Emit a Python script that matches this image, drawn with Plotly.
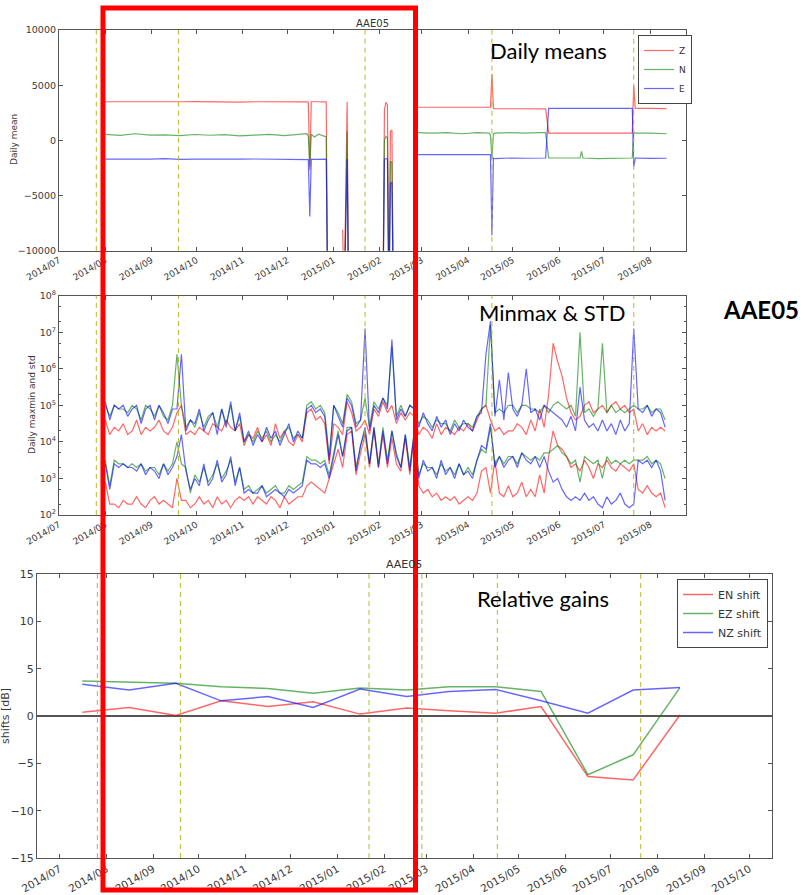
import numpy as np
import pandas as pd
import plotly.graph_objects as go

# ---------------- DATA ----------------
station = "AAE05"
event_dates = ["2014-07-26", "2014-09-19", "2015-01-22", "2015-02-26", "2015-04-17", "2015-07-21"]

# Panel 1: daily means (None = no data)
mean_dates = [
    "2014-08-01", "2014-08-11", "2014-08-21", "2014-08-31", "2014-09-10", "2014-09-20", "2014-09-30",
    "2014-10-10", "2014-10-20", "2014-10-30", "2014-11-09", "2014-11-19", "2014-11-29", "2014-12-09", "2014-12-14",
    "2014-12-15", "2014-12-16", "2014-12-17", "2014-12-19", "2014-12-22", "2014-12-25", "2014-12-27", "2014-12-28",
    "2014-12-29",
    "2015-01-07", "2015-01-08", "2015-01-10", "2015-01-11",
    "2015-01-12",
    "2015-02-03", "2015-02-04", "2015-02-05", "2015-02-06", "2015-02-07", "2015-02-08", "2015-02-09", "2015-02-10",
    "2015-02-11",
    "2015-02-26", "2015-03-08", "2015-03-18", "2015-03-28", "2015-04-07", "2015-04-15", "2015-04-16", "2015-04-17",
    "2015-04-18", "2015-04-19",
    "2015-04-29", "2015-05-09", "2015-05-19", "2015-05-23", "2015-05-25",
    "2015-06-04", "2015-06-14", "2015-06-15", "2015-06-16", "2015-06-17", "2015-06-27", "2015-07-07", "2015-07-19",
    "2015-07-20", "2015-07-21", "2015-07-22",
    "2015-08-01", "2015-08-12",
]
mean_Z = [
    3500, 3490, 3510, 3500, 3480, 3500, 3510, 3490, 3500, 3470, 3500, 3510, 3500, 3520, 3490,
    3450, -2700, 3500, 3480, 3500, 3490, 3480, -15000,
    None,
    -8100, -15000, 3500, -15000,
    None,
    -15000, 2800, 3450, 3200, -15000, 800, 950, -15000,
    None,
    3000, 3010, 2990, 3000, 3010, 2990, 3000, 6000, 2900, 2870,
    2880, 2860, 2870, 2850, 650,
    650, 660, 640, 650, 640, 650, 660, 650, 650, 5000, 2900,
    2900, 2880,
]
mean_N = [
    550, 450, 600, 480, 500, 420, 530, 460, 520, 400, 480, 550, 430, 520, 600,
    400, -2400, 550, 300, 550, 400, 300, -15000,
    None,
    None, -15000, 800, -15000,
    None,
    -15000, 0, 350, 250, -15000, -1900, -2000, -15000,
    None,
    700, 650, 700, 600, 700, 650, 500, -1700, 600, 650,
    700, 650, 700, 700, -1600,
    -1600, -1650, -1600, -1000, -1600, -1650, -1600, -1600, -1600, 700, 650,
    650, 600,
]
mean_E = [
    -1700, -1720, -1680, -1700, -1650, -1720, -1700, -1680, -1720, -1700, -1690, -1700, -1710, -1680, -1700,
    -1750, -6900, -1700, -1720, -1700, -1690, -1700, -15000,
    None,
    None, -15000, -1700, -15000,
    None,
    -15000, -1700, -1650, -1700, -15000, -3900, -3800, -15000,
    None,
    -1300, -1280, -1320, -1300, -1290, -1310, -1300, -8600, -1600, -1650,
    -1600, -1620, -1600, -1600, 2900,
    2900, 2910, 2900, 2890, 2900, 2910, 2920, 2900, 2900, -2400, -1600,
    -1630, -1620,
]
mean_ticks = [-10000, -5000, 0, 5000, 10000]
mean_ticktext = ["\u221210000", "\u22125000", "0", "5000", "10000"]

# Panel 2: log10 of daily maxmin (upper band) and std (lower band), one value every 3 days
mm_start = "2014-08-01"
mm_step_days = 3
Z_maxmin_log10 = [
    4.6, 4.2, 4.4, 4.3, 4.5, 4.2, 4.3, 4.6, 4.2, 4.4, 4.3, 4.4, 4.6, 4.3, 4.2, 4.4,
    4.8, 5.0,
    4.2, 4.3, 4.2, 4.4, 4.3, 4.2, 4.5, 4.4, 4.3, 4.6, 4.4, 4.3, 4.5,
    3.9, 4.2, 4.1, 4.4, 4.0, 4.2, 3.9, 4.5, 4.1, 4.3, 4.0, 3.9, 4.2, 4.0,
    4.8, 4.9, 4.6, 4.7, 4.5,
    3.4, 4.5, 4.4, 4.2, 5.1, 4.8, 4.3, 4.4, 4.6, 4.2, 4.9, 4.7, 5.1, 4.8, 5.0, 4.5, 4.8, 4.6, 4.8, 4.7,
    4.2, 4.4, 4.3, 4.1, 4.5, 4.2, 4.4, 4.3, 4.2, 4.4, 4.3, 4.5, 4.3, 4.6, 4.9,
    5.0, 4.6, 4.3, 4.4, 4.2, 4.3, 4.3, 4.5, 4.4, 4.2, 4.6, 4.3, 4.9, 4.4,
    5.3, 6.7, 6.2, 5.8, 5.2, 4.8, 4.6, 4.7, 5.0, 5.1, 4.8, 4.9, 5.0, 4.8, 5.0, 5.1, 4.9, 5.0, 4.8,
    4.9, 4.3, 4.5, 4.2, 4.4, 4.3, 4.4, 4.3,
]
N_maxmin_log10 = [
    5.0, 4.7, 5.0, 4.9, 4.9, 4.8, 5.0, 4.9, 4.6, 5.0, 4.9, 4.7, 5.0, 4.7, 4.6, 5.0,
    6.4, 5.0,
    4.4, 4.6, 4.4, 4.8, 4.4, 4.7, 4.8, 4.4, 4.9, 4.5, 5.0, 4.3, 4.7,
    4.0, 4.2, 4.0, 4.3, 4.1, 4.3, 4.0, 4.2, 4.0, 4.3, 4.4, 4.1, 4.2, 4.1,
    5.0, 5.1, 4.9, 5.0, 4.8,
    3.6, 5.0, 4.8, 4.5, 5.3, 5.1, 4.5, 4.6, 5.2, 4.4, 5.1, 4.9, 5.2, 5.0, 6.6, 4.7, 5.0, 4.7, 5.0, 4.9,
    4.5, 4.7, 4.6, 4.4, 4.6, 4.5, 4.5, 4.3, 4.6, 4.4, 4.5, 4.5, 4.4, 4.7, 4.9,
    5.0, 7.2, 4.8, 4.9, 4.8, 5.0, 5.0, 4.8, 5.0, 5.0, 4.9, 4.9, 4.8, 5.0,
    4.8, 5.0, 5.1, 5.0, 4.9, 5.0, 4.7, 7.0, 4.8, 4.9, 4.7, 4.9, 6.7, 4.8, 5.0, 4.8, 4.9, 4.8, 4.9,
    5.0, 4.9, 4.9, 5.0, 4.8, 4.9, 4.9, 4.6,
]
E_maxmin_log10 = [
    5.1, 4.6, 5.0, 4.9, 5.0, 4.7, 4.9, 5.0, 4.5, 4.9, 5.0, 4.6, 5.0, 4.8, 4.5, 4.9,
    4.9, 6.4,
    4.3, 4.6, 4.5, 4.9, 4.3, 4.6, 4.8, 4.2, 4.9, 4.4, 5.1, 4.3, 4.8,
    4.0, 4.3, 3.9, 4.2, 4.0, 4.4, 4.1, 4.3, 3.9, 4.2, 4.5, 4.0, 4.3, 4.1,
    4.9, 5.0, 4.8, 4.9, 4.7,
    3.5, 5.0, 4.7, 4.4, 5.2, 5.0, 4.4, 4.6, 7.1, 4.3, 5.0, 4.8, 5.2, 4.9, 6.8, 4.6, 4.9, 4.7, 5.0, 4.9,
    4.4, 4.8, 4.5, 4.3, 4.7, 4.4, 4.6, 4.2, 4.5, 4.3, 4.6, 4.4, 4.3, 4.7, 4.8,
    6.4, 7.3, 4.7, 5.7, 4.6, 5.9, 4.9, 4.7, 5.0, 6.0, 4.8, 4.9, 4.6, 5.0,
    4.9, 4.8, 4.7, 4.6, 4.4, 4.7, 4.3, 5.5, 4.6, 4.4, 4.5, 4.3, 4.6, 4.3, 4.5, 4.2, 4.6, 4.3, 4.5,
    7.1, 4.9, 4.8, 5.0, 4.7, 4.9, 4.8, 4.4,
]
Z_std_log10 = [
    2.9, 2.3, 2.3, 2.2, 2.4, 2.3, 2.3, 2.5, 2.3, 2.2, 2.4, 2.5, 2.3, 2.4, 2.3, 2.2,
    3.0, 2.4,
    2.4, 2.2, 2.3, 2.5, 2.3, 2.4, 2.2, 2.5, 2.3, 2.4, 2.2, 2.4, 2.5,
    2.4, 2.5, 2.3, 2.5, 2.4, 2.3, 2.5, 2.4, 2.2, 2.5, 2.3, 2.4, 2.5, 2.5,
    2.8, 2.9, 2.8, 2.7, 2.6,
    3.0, 3.4, 3.8, 3.3, 4.2, 4.3, 3.1, 3.7, 4.2, 3.3, 4.3, 3.3, 4.2, 3.3, 4.1, 3.4, 3.2, 4.1, 3.1, 4.2,
    2.8, 2.6, 2.7, 2.5, 2.6, 2.4, 2.5, 2.4, 2.5, 2.3, 2.4, 2.5, 2.4, 2.6, 3.2,
    3.3, 2.6, 3.5, 2.6, 2.5, 2.8, 2.5, 2.6, 2.9, 2.5, 2.7, 2.5, 3.1, 2.6,
    3.6, 4.3, 3.9, 3.8, 3.6, 3.3, 3.4, 3.2, 3.5, 3.3, 3.0, 3.4, 3.3, 3.5, 3.3, 3.2, 3.4, 3.3, 3.2,
    3.4, 2.7, 2.6, 2.8, 2.6, 2.5, 2.6, 2.2,
]
N_std_log10 = [
    3.5, 2.8, 3.5, 3.4, 3.4, 3.3, 3.4, 3.3, 3.4, 3.2, 3.3, 3.3, 3.1, 3.4, 3.2, 3.4,
    4.0, 3.4,
    3.3, 2.6, 3.1, 2.9, 3.3, 2.9, 3.1, 3.4, 3.0, 3.2, 3.5, 2.9, 3.3,
    2.7, 2.8, 2.6, 2.7, 2.8, 2.6, 2.7, 2.8, 2.6, 2.6, 2.8, 2.7, 2.8, 2.9,
    3.6, 3.5, 3.5, 3.4, 3.5,
    3.1, 3.7, 4.3, 3.6, 4.4, 4.4, 3.3, 3.9, 4.3, 3.4, 4.4, 3.4, 4.4, 3.5, 4.3, 3.7, 3.3, 4.2, 3.3, 4.3,
    3.1, 3.4, 3.3, 3.3, 3.1, 3.4, 3.2, 3.3, 3.1, 3.4, 3.1, 3.3, 3.1, 3.5, 3.8,
    3.7, 4.4, 3.4, 3.6, 3.4, 3.6, 3.6, 3.4, 3.7, 3.6, 3.5, 3.6, 3.5, 3.7,
    3.7, 3.8, 3.9, 3.7, 3.6, 3.4, 3.5, 2.9, 3.6, 3.5, 3.4, 3.5, 3.0, 3.6, 3.4, 3.5, 3.4, 3.5, 3.4,
    3.5, 3.5, 3.5, 3.6, 3.4, 3.5, 3.4, 3.0,
]
E_std_log10 = [
    3.4, 2.7, 3.4, 3.3, 3.4, 3.3, 3.3, 3.2, 3.4, 3.1, 3.3, 3.2, 3.0, 3.4, 3.1, 3.3,
    3.6, 4.2,
    3.2, 2.7, 3.0, 2.8, 3.4, 2.8, 3.0, 3.5, 2.9, 3.1, 3.6, 2.8, 3.3,
    2.6, 2.7, 2.6, 2.6, 2.8, 2.5, 2.6, 2.7, 2.6, 2.5, 2.7, 2.6, 2.7, 2.8,
    3.5, 3.4, 3.4, 3.3, 3.4,
    3.0, 3.6, 4.2, 3.6, 4.3, 4.4, 3.2, 3.9, 4.4, 3.4, 4.4, 3.3, 4.3, 3.4, 4.3, 3.6, 3.3, 4.2, 3.2, 4.3,
    3.0, 3.5, 3.2, 3.3, 3.0, 3.5, 3.1, 3.3, 3.0, 3.4, 3.1, 3.2, 3.0, 3.5, 3.9,
    3.8, 4.5, 3.3, 3.6, 3.3, 3.5, 3.6, 3.3, 3.7, 3.5, 3.4, 3.6, 3.3, 3.6,
    3.2, 2.9, 3.0, 2.7, 2.5, 2.4, 2.5, 2.4, 2.6, 2.4, 2.5, 2.3, 2.2, 2.5, 2.3, 2.4, 2.6, 2.3, 2.2,
    2.3, 3.5, 3.4, 3.5, 3.3, 3.5, 3.2, 2.4,
]

# Panel 3: relative gains (dB), monthly
gain_dates = ["2014-07-16", "2014-08-16", "2014-09-16", "2014-10-16", "2014-11-16", "2014-12-16", "2015-01-16",
              "2015-02-16", "2015-03-16", "2015-04-16", "2015-05-16", "2015-06-16", "2015-07-16", "2015-08-16"]
EN_shift = [0.4, 0.9, 0.05, 1.6, 1.0, 1.5, 0.2, 0.85, 0.55, 0.3, 1.0, -6.4, -6.75, 0.1]
EZ_shift = [3.7, 3.6, 3.45, 3.1, 2.9, 2.4, 2.95, 2.75, 3.1, 3.1, 2.6, -6.2, -4.1, 3.0]
NZ_shift = [3.35, 2.75, 3.45, 1.6, 2.05, 0.9, 2.85, 2.05, 2.6, 2.8, 1.6, 0.3, 2.75, 3.0]
gain_ticks = [-15, -10, -5, 0, 5, 10, 15]
gain_ticktext = ["\u221215", "\u221210", "\u22125", "0", "5", "10", "15"]

# ---------------- STYLE ----------------
W, H = 805, 895
RED = "rgba(255,0,0,0.6)"
GREEN = "rgba(0,128,0,0.6)"
BLUE = "rgba(0,0,255,0.6)"
EVENT = "rgb(185,185,40)"
AX = "#555555"
TXT = "#3a3a3a"

def px_x(p):
    return p / W

def px_y(p):
    return 1 - p / H

n_mm = len(E_maxmin_log10)
for l in [Z_maxmin_log10, N_maxmin_log10, Z_std_log10, N_std_log10, E_std_log10]:
    assert len(l) == n_mm, (len(l), n_mm)
mm_dates = pd.date_range(mm_start, periods=n_mm, freq=f"{mm_step_days}D")

fig = go.Figure()

# Panel 1
for name, vals, col in [("Z", mean_Z, RED), ("N", mean_N, GREEN), ("E", mean_E, BLUE)]:
    fig.add_trace(go.Scatter(x=mean_dates, y=vals, name=name, mode="lines",
                             line=dict(color=col, width=1.2), connectgaps=False,
                             xaxis="x", yaxis="y", legend="legend"))

# Panel 2
for vals, col in [(Z_maxmin_log10, RED), (Z_std_log10, RED),
                  (N_maxmin_log10, GREEN), (N_std_log10, GREEN),
                  (E_maxmin_log10, BLUE), (E_std_log10, BLUE)]:
    fig.add_trace(go.Scatter(x=mm_dates, y=np.power(10.0, np.array(vals)), mode="lines",
                             line=dict(color=col, width=1.2), showlegend=False,
                             xaxis="x2", yaxis="y2"))

# Panel 3
for name, vals, col in [("EN shift", EN_shift, RED), ("EZ shift", EZ_shift, GREEN), ("NZ shift", NZ_shift, BLUE)]:
    fig.add_trace(go.Scatter(x=gain_dates, y=vals, name=name, mode="lines",
                             line=dict(color=col, width=1.5),
                             xaxis="x3", yaxis="y3", legend="legend2"))

common_axis = dict(showline=True, linecolor=AX, linewidth=1.2, mirror="ticks", ticks="inside",
                   ticklen=4, tickcolor=AX, showgrid=False, automargin=False)

xdom12 = [px_x(59), px_x(686)]
xdom3 = [px_x(37), px_x(772)]
date_axis = dict(type="date", dtick="M1", tick0="2014-07-01", tickformat="%Y/%m", tickangle=-30)

fig.update_layout(
    template="none",
    width=W, height=H, autosize=False,
    margin=dict(l=0, r=0, t=0, b=0, pad=0),
    paper_bgcolor="white", plot_bgcolor="white",
    font=dict(family="DejaVu Sans", color=TXT),
    xaxis=dict(domain=xdom12, anchor="y", range=["2014-07-01", "2015-08-25"],
               tickfont=dict(size=9, color=TXT), zeroline=False, **date_axis, **common_axis),
    yaxis=dict(domain=[px_y(250.7), px_y(30)], anchor="x", range=[-10000, 10000],
               tickvals=mean_ticks, ticktext=mean_ticktext, zeroline=False,
               tickfont=dict(size=9.5, color=TXT), **common_axis),
    xaxis2=dict(domain=xdom12, anchor="y2", range=["2014-07-01", "2015-08-25"],
                tickfont=dict(size=9, color=TXT), zeroline=False, **date_axis, **common_axis),
    yaxis2=dict(domain=[px_y(515), px_y(295.7)], anchor="x2", type="log", range=[2, 8],
                tickvals=[1e2, 1e3, 1e4, 1e5, 1e6, 1e7, 1e8],
                ticktext=["10<sup>%d</sup>" % k for k in range(2, 9)],
                tickfont=dict(size=9.5, color=TXT), zeroline=False,
                minor=dict(ticks="inside", ticklen=2, tickcolor=AX, showgrid=False),
                **common_axis),
    xaxis3=dict(domain=xdom3, anchor="y3", range=["2014-06-16", "2015-10-16"],
                tickfont=dict(size=10.5, color=TXT), zeroline=False, **date_axis, **common_axis),
    yaxis3=dict(domain=[px_y(858), px_y(574)], anchor="x3", range=[-15, 15],
                tickvals=gain_ticks, ticktext=gain_ticktext, tickfont=dict(size=11, color=TXT),
                zeroline=True, zerolinecolor="#555555", zerolinewidth=1.5, **common_axis),
    legend=dict(x=px_x(638), y=px_y(35), xanchor="left", yanchor="top", bgcolor="white",
                bordercolor="#444", borderwidth=1, font=dict(size=9, color="#333"),
                tracegroupgap=0, itemwidth=30),
    legend2=dict(x=px_x(677), y=px_y(579), xanchor="left", yanchor="top", bgcolor="white",
                 bordercolor="#444", borderwidth=1, font=dict(size=11, color="#333"),
                 tracegroupgap=0, itemwidth=30),
    showlegend=True,
)

shapes = []
for xr, yr in [("x", "y domain"), ("x2", "y2 domain"), ("x3", "y3 domain")]:
    for d in event_dates:
        shapes.append(dict(type="line", xref=xr, yref=yr, x0=d, x1=d, y0=0, y1=1,
                           line=dict(color=EVENT, width=1, dash="5px,4px")))
# red highlight box
shapes.append(dict(type="rect", xref="paper", yref="paper",
                   x0=px_x(103), x1=px_x(415.5), y0=px_y(890), y1=px_y(8),
                   line=dict(color="rgb(255,0,0)", width=5), fillcolor="rgba(0,0,0,0)", layer="above"))
fig.update_layout(shapes=shapes)

annotations = [
    dict(text=station, x=px_x(372), y=px_y(24), font=dict(size=10, color="#333")),
    dict(text=station, x=px_x(404), y=px_y(564), font=dict(size=11, color="#333")),
    dict(text="Daily mean", x=px_x(14), y=px_y(140), textangle=-90, font=dict(size=9, color=TXT)),
    dict(text="Daily maxmin and std", x=px_x(32), y=px_y(405), textangle=-90, font=dict(size=9, color=TXT)),
    dict(text="shifts [dB]", x=px_x(5), y=px_y(716), textangle=-90, font=dict(size=11, color=TXT)),
    dict(text="Daily means", x=px_x(548), y=px_y(50), font=dict(size=22, color="black", family="Lato")),
    dict(text="Minmax & STD", x=px_x(552), y=px_y(312), font=dict(size=22, color="black", family="Lato")),
    dict(text="<b>AAE05</b>", x=px_x(761), y=px_y(310), font=dict(size=24, color="black", family="Lato")),
    dict(text="Relative gains", x=px_x(543), y=px_y(598), font=dict(size=22, color="black", family="Lato")),
]
for a in annotations:
    a.update(xref="paper", yref="paper", xanchor="center", yanchor="middle", showarrow=False)
fig.update_layout(annotations=annotations)

fig.write_html("out.html")
